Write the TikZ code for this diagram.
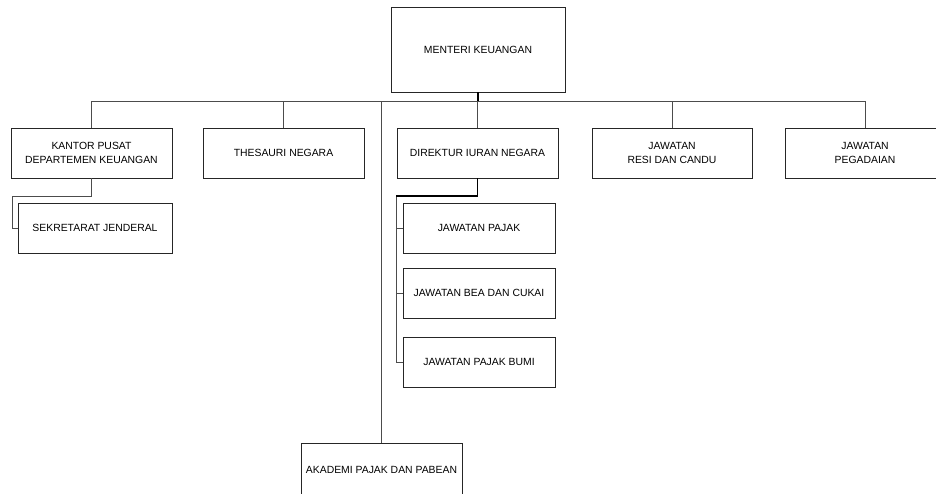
\documentclass[tikz,border=0pt]{standalone}
\usepackage{fontspec}
\setmainfont{Liberation Sans}
\begin{document}
\begin{tikzpicture}[x=1pt,y=-1pt,
  box/.style={draw=black!85, line width=0.9pt, minimum height=50pt, inner sep=0pt, align=center, font=\fontsize{10.4}{14}\selectfont},
  conn/.style={draw=black!70, line width=0.9pt},
  boldconn/.style={draw=black, line width=1.7pt}]
\useasboundingbox (0,0) rectangle (936,493);
\node[box, minimum width=174pt, minimum height=85pt] (top) at (478,49.5) {MENTERI KEUANGAN};
\node[box, minimum width=161pt] (kp) at (91.5,153) {KANTOR PUSAT\\DEPARTEMEN KEUANGAN};
\node[box, minimum width=161pt] (th) at (283.5,153) {THESAURI NEGARA};
\node[box, minimum width=161pt] (dir) at (477.5,153) {DIREKTUR IURAN NEGARA};
\node[box, minimum width=160pt] (resi) at (672,153) {JAWATAN\\RESI DAN CANDU};
\node[box, minimum width=160pt] (peg) at (865,153) {JAWATAN\\PEGADAIAN};
\node[box, minimum width=154pt] (sek) at (95,228) {SEKRETARAT JENDERAL};
\node[box, minimum width=152pt] (pj) at (479,228) {JAWATAN PAJAK};
\node[box, minimum width=152pt] (bea) at (479,293) {JAWATAN BEA DAN CUKAI};
\node[box, minimum width=152pt] (bumi) at (479,362) {JAWATAN PAJAK BUMI};
\node[box, minimum width=161pt, minimum height=54pt] (ak) at (381.5,470) {AKADEMI PAJAK DAN PABEAN};
\coordinate (bus) at (478,101);
\coordinate (sj) at (12,196);
\coordinate (dj) at (396,196);
\draw[conn] (kp.north |- bus) -- (peg.north |- bus);
\draw[conn] (kp.north) -- (kp.north |- bus);
\draw[conn] (th.north) -- (th.north |- bus);
\draw[conn] (dir.north) -- (dir.north |- bus);
\draw[conn] (resi.north) -- (resi.north |- bus);
\draw[conn] (peg.north) -- (peg.north |- bus);
\draw[conn] (ak.north) -- (ak.north |- bus);
\draw[boldconn] (top.south) -- (top.south |- bus);
\draw[conn] (kp.south) |- (sj) |- (sek.west);
\draw[conn] (dj) |- (bumi.west);
\draw[conn] (pj.west -| dj) -- (pj.west);
\draw[conn] (bea.west -| dj) -- (bea.west);
\draw[boldconn] (dir.south) |- (dj);
\end{tikzpicture}
\end{document}
